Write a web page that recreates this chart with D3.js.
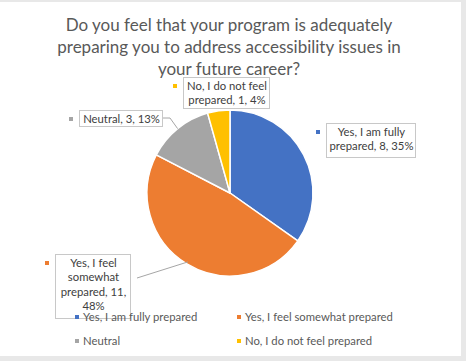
<!DOCTYPE html>
<html><head><meta charset="utf-8">
<script src="https://cdn.jsdelivr.net/npm/d3@7"></script>
<style>
html,body{margin:0;padding:0;background:#fff;}
svg{display:block;font-family:Lato,"Liberation Sans",sans-serif;}
</style></head>
<body>
<svg id="chart" width="466" height="361"></svg>
<script>
const categories = ["Yes, I am fully prepared","Yes, I feel somewhat prepared","Neutral","No, I do not feel prepared"];
const counts = [8, 11, 3, 1];
const percents = ["35%","48%","13%","4%"];
const colors = ["#4472C4","#ED7D31","#A5A5A5","#FFC000"];
const titleLines = ["Do you feel that your program is adequately","preparing you to address accessibility issues in","your future career?"];
const labelLines = [
  ["Yes, I am fully","prepared, 8, 35%"],
  ["Yes, I feel","somewhat","prepared, 11,","48%"],
  ["Neutral, 3, 13%"],
  ["No, I do not feel","prepared, 1, 4%"]
];
// layout of label boxes (x, y, w, h) and leader flags
const labelBoxes = [
  {x:326,y:123,w:89,h:34,leader:false},
  {x:55,y:254,w:75,h:64,leader:true},
  {x:79,y:110,w:83,h:16,leader:true},
  {x:183,y:77,w:86,h:31,leader:false}
];

const svg = d3.select("#chart");
const W = 466, H = 361;
svg.append("rect").attr("width",W).attr("height",H).attr("fill","#e8e8e8");
svg.append("rect").attr("x",0).attr("y",2).attr("width",461).attr("height",354).attr("fill","#fff");

// title
const title = svg.append("text").attr("text-anchor","middle").attr("fill","#595959")
  .attr("font-size",17);
titleLines.forEach((t,i)=>{
  title.append("tspan").attr("x",229).attr("y",31+i*22).text(t);
});

const cx = 230, cy = 193, r = 83;
const data = categories.map((c,i)=>({cat:c,value:counts[i],i}));
const pie = d3.pie().sort(null).value(d=>d.value);
const arcs = pie(data);
const arc = d3.arc().innerRadius(0).outerRadius(r);
const g = svg.append("g").attr("transform",`translate(${cx},${cy})`);
g.selectAll("path").data(arcs).join("path")
  .attr("d",arc).attr("fill",d=>colors[d.data.i])
  .attr("stroke","#fff").attr("stroke-width",1.5).attr("stroke-linejoin","round");

// leader lines
arcs.forEach((a,i)=>{
  const b = labelBoxes[i];
  if(!b.leader) return;
  const mid = (a.startAngle+a.endAngle)/2;
  const px = cx + r*Math.sin(mid), py = cy - r*Math.cos(mid);
  let pts;
  if(i===2){ pts = [[b.x+b.w, b.y+b.h/2],[b.x+b.w+8,b.y+b.h/2],[px,py]]; }
  else { pts = [[b.x+b.w+7, b.y+24],[px+1,py-2]]; }
  svg.append("path").attr("d",d3.line()(pts)).attr("fill","none")
    .attr("stroke","#a6a6a6").attr("stroke-width",1);
});

// label boxes
arcs.forEach((a,i)=>{
  const b = labelBoxes[i];
  svg.append("rect").attr("x",b.x+0.5).attr("y",b.y+0.5).attr("width",b.w).attr("height",b.h)
    .attr("fill","#fff").attr("stroke","#c8c8c8").attr("stroke-width",1);
  svg.append("rect").attr("x",b.x-10).attr("y",b.y+7).attr("width",4).attr("height",4)
    .attr("fill",colors[i]);
  const lines = labelLines[i];
  const t = svg.append("text").attr("text-anchor","middle").attr("fill","#404040").attr("font-size",11.3);
  lines.forEach((l,j)=>{
    t.append("tspan").attr("x",b.x+b.w/2+1).attr("y",b.y+13+j*14.3).text(l);
  });
});

// legend
const legendPos = [[75,317],[237,317],[75,341],[237,341]];
categories.forEach((c,i)=>{
  const [lx,ly] = legendPos[i];
  svg.append("rect").attr("x",lx).attr("y",ly-2).attr("width",4).attr("height",4).attr("fill",colors[i]);
  svg.append("text").attr("x",lx+8).attr("y",ly+3.5).attr("fill","#595959").attr("font-size",11.3).text(c);
});
</script>
</body></html>
